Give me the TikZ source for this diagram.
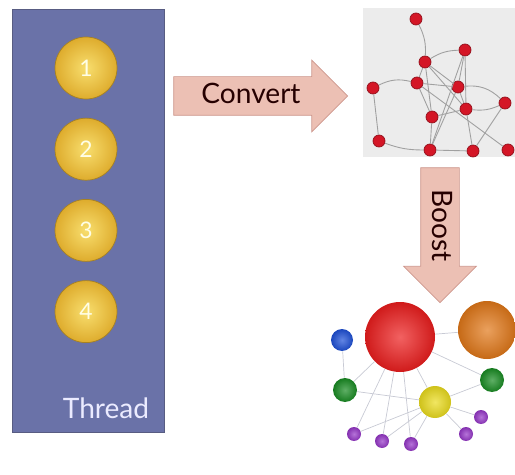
\documentclass[tikz,border=0pt]{standalone}
\usepackage{fontspec}
\setmainfont{Lato}
\usepackage{tikz}
\usetikzlibrary{positioning}
\usetikzlibrary{shapes}
\usetikzlibrary{shapes.arrows}
\usepackage{xcolor}
\definecolor{threadblue} {RGB} {106,114,168}
\definecolor{threadedge} {RGB} {88,92,130}
\definecolor{goldin} {RGB} {248,222,110}
\definecolor{goldout} {RGB} {222,172,45}
\definecolor{arrowpink} {RGB} {236,192,180}
\definecolor{arrowedge} {RGB} {205,150,140}
\definecolor{graphbg} {RGB} {236,236,236}
\definecolor{vred} {RGB} {212,22,38}
\definecolor{edgegray} {RGB} {160,160,160}
\definecolor{linkgray} {RGB} {200,202,212}
\definecolor{bred} {RGB} {236,30,30}
\definecolor{borange} {RGB} {225,120,25}
\definecolor{bblue} {RGB} {30,80,215}
\definecolor{bgreen} {RGB} {25,140,35}
\definecolor{byellow} {RGB} {235,220,30}
\definecolor{bpurple} {RGB} {150,55,200}
\tikzstyle{T} = [circle,draw=goldout!75!black,inner color=goldin,outer color=goldout,minimum size=1.24cm,inner sep=0pt,text=white!90!yellow,font=\fontsize{13}{13}\selectfont]
\tikzstyle{V} = [circle,fill=vred,draw=vred!70!black,minimum size=0.24cm,inner sep=0pt]
\tikzset{B/.style={circle,inner sep=0pt,inner color=#1!70!white,outer color=#1!88!black}}
\tikzset{bigarrow/.style={single arrow,fill=arrowpink,draw=arrowedge,single arrow head indent=0pt,inner ysep=0.13cm,text height=0.4cm,text depth=0.1cm,text=black!85!red,font=\fontsize{16}{16}\selectfont}}

\begin{document}
\begin{tikzpicture}
  \useasboundingbox (0,0) rectangle (10.3,-9.5);

  \node [draw=threadedge,fill=threadblue,rectangle,anchor=north west,minimum width=3.04cm,minimum height=8.46cm] (panel) at (0.24,-0.18) {};
  \node [T] (t1) at (1.72,-1.36) {1};
  \node [T,below=0.37cm of t1] (t2) {2};
  \node [T,below=0.37cm of t2] (t3) {3};
  \node [T,below=0.37cm of t3] (t4) {4};
  \node [text=white!92!blue,font=\fontsize{16}{16}\selectfont] (thread) at (2.12,-8.16) {Thread};

  \node [bigarrow,minimum height=3.48cm,single arrow head extend=0.33cm] (convert) at (5.02,-1.92) {Convert};

  % input graph
  \node [fill=graphbg,rectangle,anchor=north west,minimum width=3.04cm,minimum height=2.98cm] (graph) at (7.26,-0.16) {};
  \node [V] (va) at (8.32,-0.38) {};
  \node [V] (vb) at (9.30,-1.00) {};
  \node [V] (vc) at (8.50,-1.24) {};
  \node [V] (vd) at (7.46,-1.76) {};
  \node [V] (ve) at (8.34,-1.66) {};
  \node [V] (vf) at (9.16,-1.74) {};
  \node [V] (vg) at (10.10,-2.06) {};
  \node [V] (vh) at (9.32,-2.18) {};
  \node [V] (vi) at (8.64,-2.34) {};
  \node [V] (vj) at (7.58,-2.82) {};
  \node [V] (vk) at (8.60,-3.00) {};
  \node [V] (vl) at (9.46,-3.02) {};
  \node [V] (vm) at (10.16,-3.00) {};
  \draw [edgegray,line width=0.5pt] (va) to [bend left=15] (vc);
  \draw [edgegray,line width=0.5pt] (vc) to [bend left=15] (vb);
  \draw [edgegray,line width=0.5pt] (vc) -- (ve);
  \draw [edgegray,line width=0.5pt] (vc) -- (vf);
  \draw [edgegray,line width=0.5pt] (vc) -- (vh);
  \draw [edgegray,line width=0.5pt] (vc) -- (vi);
  \draw [edgegray,line width=0.5pt] (vd) to [bend left=20] (ve);
  \draw [edgegray,line width=0.5pt] (vd) -- (vj);
  \draw [edgegray,line width=0.5pt] (vj) to [bend right=10] (vk);
  \draw [edgegray,line width=0.5pt] (ve) -- (vf);
  \draw [edgegray,line width=0.5pt] (ve) -- (vi);
  \draw [edgegray,line width=0.5pt] (ve) -- (vm);
  \draw [edgegray,line width=0.5pt] (vb) -- (vf);
  \draw [edgegray,line width=0.5pt] (vb) -- (vh);
  \draw [edgegray,line width=0.5pt] (vb) -- (vk);
  \draw [edgegray,line width=0.5pt] (vf) -- (vh);
  \draw [edgegray,line width=0.5pt] (vf) to [bend left=25] (vg);
  \draw [edgegray,line width=0.5pt] (vh) to [bend right=15] (vg);
  \draw [edgegray,line width=0.5pt] (vg) -- (vl);
  \draw [edgegray,line width=0.5pt] (vh) -- (vl);
  \draw [edgegray,line width=0.5pt] (vh) -- (vi);
  \draw [edgegray,line width=0.5pt] (vi) -- (vk);
  \draw [edgegray,line width=0.5pt] (vf) -- (vk);
  \draw [edgegray,line width=0.5pt] (vk) -- (vl);

  \node [bigarrow,rotate=-90,minimum height=2.70cm,single arrow head extend=0.34cm] (boost) at (8.8,-4.51) {Boost};

  % boosted graph
  \node [B=bred,minimum size=1.40cm] (nred) at (8.00,-6.74) {};
  \node [B=borange,minimum size=1.16cm] (norange) at (9.74,-6.60) {};
  \node [B=bblue,minimum size=0.44cm] (nblue) at (6.84,-6.80) {};
  \node [B=bgreen,minimum size=0.48cm] (ngreen1) at (6.90,-7.80) {};
  \node [B=bgreen,minimum size=0.48cm] (ngreen2) at (9.84,-7.60) {};
  \node [B=byellow,minimum size=0.64cm] (nyellow) at (8.70,-8.04) {};
  \node [B=bpurple,minimum size=0.28cm] (np1) at (7.08,-8.68) {};
  \node [B=bpurple,minimum size=0.28cm] (np2) at (7.64,-8.82) {};
  \node [B=bpurple,minimum size=0.28cm] (np3) at (8.22,-8.88) {};
  \node [B=bpurple,minimum size=0.28cm] (np4) at (9.32,-8.68) {};
  \node [B=bpurple,minimum size=0.28cm] (np5) at (9.62,-8.34) {};
  \draw [linkgray] (nred) -- (norange);
  \draw [linkgray] (nblue) -- (ngreen1);
  \draw [linkgray] (nred) -- (ngreen1);
  \draw [linkgray] (ngreen1) -- (nyellow);
  \draw [linkgray] (nred) -- (nyellow);
  \draw [linkgray] (nred) -- (ngreen2);
  \draw [linkgray] (ngreen2) -- (nyellow);
  \draw [linkgray] (nred) -- (np1);
  \draw [linkgray] (nred) -- (np2);
  \draw [linkgray] (nred) -- (np3);
  \draw [linkgray] (nyellow) -- (np1);
  \draw [linkgray] (nyellow) -- (np2);
  \draw [linkgray] (nyellow) -- (np3);
  \draw [linkgray] (nyellow) -- (np4);
  \draw [linkgray] (nyellow) -- (np5);

\end{tikzpicture}
\end{document}
